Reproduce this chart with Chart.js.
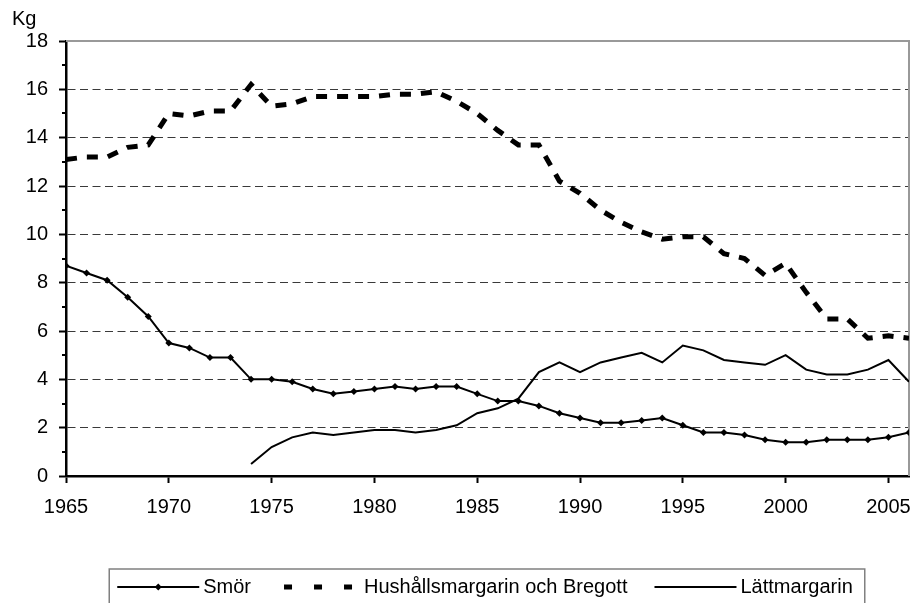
<!DOCTYPE html>
<html>
<head>
<meta charset="utf-8">
<script src="https://cdn.jsdelivr.net/npm/chart.js@4"></script>
<style>
  body { margin: 0; background: #fff; }
  #wrap { width: 915px; height: 603px; }
</style>
</head>
<body>
<div id="wrap"><canvas id="myChart" width="915" height="603"></canvas></div>
<script>
const years = [1965, 1966, 1967, 1968, 1969, 1970, 1971, 1972, 1973, 1974,
  1975, 1976, 1977, 1978, 1979, 1980, 1981, 1982, 1983, 1984,
  1985, 1986, 1987, 1988, 1989, 1990, 1991, 1992, 1993, 1994,
  1995, 1996, 1997, 1998, 1999, 2000, 2001, 2002, 2003, 2004,
  2005, 2006];
const smor = [8.7, 8.4, 8.1, 7.4, 6.6, 5.5, 5.3, 4.9, 4.9, 4.0,
  4.0, 3.9, 3.6, 3.4, 3.5, 3.6, 3.7, 3.6, 3.7, 3.7,
  3.4, 3.1, 3.1, 2.9, 2.6, 2.4, 2.2, 2.2, 2.3, 2.4,
  2.1, 1.8, 1.8, 1.7, 1.5, 1.4, 1.4, 1.5, 1.5, 1.5,
  1.6, 1.8];
const hushall = [13.1, 13.2, 13.2, 13.6, 13.7, 15.0, 14.9, 15.1, 15.1, 16.2,
  15.3, 15.4, 15.7, 15.7, 15.7, 15.7, 15.8, 15.8, 15.9, 15.5,
  15.0, 14.3, 13.7, 13.7, 12.2, 11.7, 11.0, 10.5, 10.1, 9.8,
  9.9, 9.9, 9.2, 9.0, 8.3, 8.8, 7.6, 6.5, 6.5, 5.7,
  5.8, 5.7];
const lattmargarin = [null, null, null, null, null, null, null, null, null, 0.5,
  1.2, 1.6, 1.8, 1.7, 1.8, 1.9, 1.9, 1.8, 1.9, 2.1,
  2.6, 2.8, 3.2, 4.3, 4.7, 4.3, 4.7, 4.9, 5.1, 4.7,
  5.4, 5.2, 4.8, 4.7, 4.6, 5.0, 4.4, 4.2, 4.2, 4.4,
  4.8, 3.9];
const seriesNames = ["Smör", "Hushållsmargarin och Bregott", "Lättmargarin"];
const yTitle = "Kg";

const FONT = "'Liberation Sans', Arial, sans-serif";
Chart.defaults.font.family = FONT;
Chart.defaults.font.size = 20;
Chart.defaults.color = "#000";

const pts = arr => years.map((y, i) => ({ x: y, y: arr[i] }));

// grey frame on top and right of the plot area, short minor ticks, "Kg" unit
const frame = {
  id: "frame",
  beforeDatasetsDraw(chart) {
    const { ctx, chartArea: a } = chart;
    const ys = chart.scales.y;
    ctx.save();
    ctx.strokeStyle = "#999";
    ctx.lineWidth = 2;
    ctx.beginPath();
    ctx.moveTo(a.left, a.top);
    ctx.lineTo(a.right, a.top);
    ctx.lineTo(a.right, a.bottom);
    ctx.stroke();
    // minor ticks on odd values
    ctx.strokeStyle = "#000";
    ctx.beginPath();
    ys.ticks.filter(t => t.value % 2 !== 0).forEach(t => {
      const py = Math.round(ys.getPixelForValue(t.value));
      ctx.moveTo(a.left - 4, py);
      ctx.lineTo(a.left, py);
    });
    ctx.stroke();
    ctx.restore();
  },
  afterDraw(chart) {
    const { ctx, chartArea: a } = chart;
    ctx.save();
    ctx.font = "20px " + FONT;
    ctx.fillStyle = "#000";
    ctx.textBaseline = "middle";
    ctx.fillText(yTitle, a.left - 54, a.top - 22);
    ctx.restore();
  }
};

// boxed legend below the x axis
const boxLegend = {
  id: "boxLegend",
  afterDraw(chart) {
    const { ctx, chartArea: a } = chart;
    const sampleW = 84, textGap = 3, itemGap = 26;
    ctx.save();
    ctx.font = "20px " + FONT;
    const items = chart.data.datasets.map(ds => ({ ds, w: sampleW + textGap + ctx.measureText(ds.label).width }));
    const total = items.reduce((s, it) => s + it.w, 0) + itemGap * (items.length - 1);
    const cx = (a.left + a.right) / 2;
    let x = cx - total / 2 - 3;
    const yMid = chart.height - 16;
    const boxTop = chart.height - 34;
    ctx.strokeStyle = "#808080";
    ctx.lineWidth = 1.5;
    ctx.strokeRect(x - 7, boxTop, total + 19, 40);
    items.forEach(it => {
      const ds = it.ds;
      ctx.strokeStyle = "#000";
      ctx.fillStyle = "#000";
      ctx.lineWidth = ds.borderWidth;
      if (ds.borderDash && ds.borderDash.length) {
        ctx.setLineDash([8, 22]);
        ctx.beginPath();
        ctx.moveTo(x + 7, yMid);
        ctx.lineTo(x + sampleW - 7, yMid);
        ctx.stroke();
        ctx.setLineDash([]);
      } else {
        ctx.beginPath();
        ctx.moveTo(x + 1, yMid);
        ctx.lineTo(x + sampleW - 1, yMid);
        ctx.stroke();
      }
      if (ds.pointRadius > 0) {
        const r = ds.pointRadius;
        const px = x + sampleW / 2;
        ctx.beginPath();
        ctx.moveTo(px, yMid - r);
        ctx.lineTo(px + r, yMid);
        ctx.lineTo(px, yMid + r);
        ctx.lineTo(px - r, yMid);
        ctx.closePath();
        ctx.fill();
      }
      ctx.textBaseline = "middle";
      ctx.fillText(ds.label, x + sampleW + textGap, yMid);
      x += it.w + itemGap;
    });
    ctx.restore();
  }
};

const chart = new Chart(document.querySelector("#myChart"), {
  type: "line",
  data: {
    datasets: [
      {
        label: seriesNames[0],
        data: pts(smor),
        borderColor: "#000",
        backgroundColor: "#000",
        borderWidth: 2,
        pointStyle: "rectRot",
        pointRadius: 3.5,
        pointBorderWidth: 0,
        tension: 0,
      },
      {
        label: seriesNames[1],
        data: pts(hushall),
        borderColor: "#000",
        borderWidth: 5,
        borderDash: [11, 10],
        borderCapStyle: "butt",
        pointRadius: 0,
        tension: 0,
      },
      {
        label: seriesNames[2],
        data: pts(lattmargarin),
        borderColor: "#000",
        borderWidth: 2,
        pointRadius: 0,
        tension: 0,
      },
    ],
  },
  options: {
    responsive: false,
    animation: false,
    layout: { padding: { top: 41, right: 6, bottom: 72, left: 0 } },
    plugins: {
      legend: { display: false },
      tooltip: { enabled: false },
    },
    scales: {
      x: {
        type: "linear",
        min: 1965,
        max: 2006,
        afterFit: scale => { scale.paddingRight = 0; scale.paddingLeft = 0; },
        ticks: { stepSize: 5, includeBounds: false, padding: 12, maxRotation: 0, callback: v => String(v) },
        grid: { drawOnChartArea: false, tickLength: 7, tickWidth: 2, tickColor: "#000" },
        border: { color: "#000", width: 2.5 },
      },
      y: {
        min: 0,
        max: 18,
        afterFit: scale => { scale.width = 66; },
        ticks: { stepSize: 1, padding: 11, autoSkip: false, callback: v => (v % 2 === 0 ? v : "") },
        grid: {
          tickLength: 7,
          tickWidth: 2,
          tickColor: c => (c.tick.value % 2 !== 0 ? "rgba(0,0,0,0)" : "#000"),
          lineWidth: 1,
          color: c => (c.tick.value % 2 !== 0 || c.tick.value === 0 || c.tick.value === 18 ? "rgba(0,0,0,0)" : "#3a3a3a"),
        },
        border: { color: "#000", width: 2.5, dash: [8, 4.5] },
      },
    },
  },
  plugins: [frame, boxLegend],
});
</script>
</body>
</html>
